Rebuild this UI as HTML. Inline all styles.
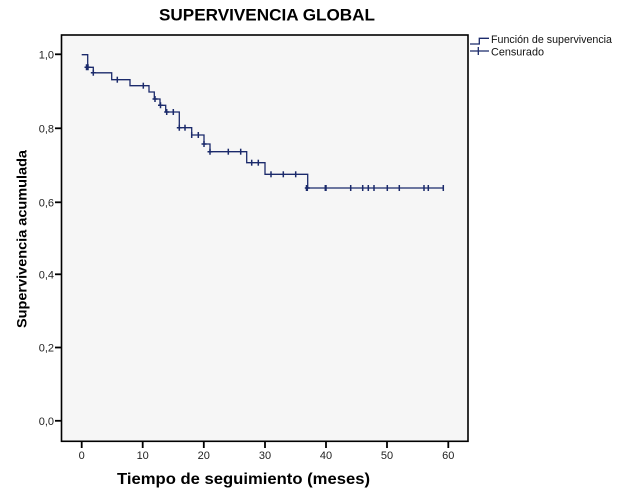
<!DOCTYPE html>
<html>
<head>
<meta charset="utf-8">
<style>
html,body{margin:0;padding:0;background:#fff;}
svg{display:block;}
</style>
</head>
<body>
<svg width="620" height="491" viewBox="0 0 620 491" xmlns="http://www.w3.org/2000/svg">
  <rect x="0" y="0" width="620" height="491" fill="#ffffff"/>
  <!-- Title -->
  <text x="159" y="20.7" font-family="Liberation Sans, Arial, sans-serif" font-weight="bold" font-size="17" fill="#000" textLength="216" lengthAdjust="spacingAndGlyphs">SUPERVIVENCIA GLOBAL</text>

  <!-- Plot area -->
  <rect x="61.5" y="35" width="406.5" height="406.3" fill="#f6f6f6" stroke="#000" stroke-width="1.6"/>

  <!-- Y ticks -->
  <g stroke="#000" stroke-width="1.8">
    <line x1="55" y1="54.3" x2="61.5" y2="54.3"/>
    <line x1="55" y1="128.3" x2="61.5" y2="128.3"/>
    <line x1="55" y1="202.3" x2="61.5" y2="202.3"/>
    <line x1="55" y1="274.3" x2="61.5" y2="274.3"/>
    <line x1="55" y1="347.5" x2="61.5" y2="347.5"/>
    <line x1="55" y1="420.8" x2="61.5" y2="420.8"/>
  </g>
  <g font-family="Liberation Sans, Arial, sans-serif" font-size="11" fill="#222" text-anchor="end">
    <text x="54" y="58.3">1,0</text>
    <text x="54" y="132.3">0,8</text>
    <text x="54" y="206.3">0,6</text>
    <text x="54" y="278.3">0,4</text>
    <text x="54" y="351.5">0,2</text>
    <text x="54" y="424.8">0,0</text>
  </g>

  <!-- X ticks -->
  <g stroke="#000" stroke-width="1.8">
    <line x1="81.7" y1="441.3" x2="81.7" y2="448"/>
    <line x1="142.7" y1="441.3" x2="142.7" y2="448"/>
    <line x1="203.8" y1="441.3" x2="203.8" y2="448"/>
    <line x1="265" y1="441.3" x2="265" y2="448"/>
    <line x1="326" y1="441.3" x2="326" y2="448"/>
    <line x1="387" y1="441.3" x2="387" y2="448"/>
    <line x1="448.3" y1="441.3" x2="448.3" y2="448"/>
  </g>
  <g font-family="Liberation Sans, Arial, sans-serif" font-size="11" fill="#222" text-anchor="middle">
    <text x="81.7" y="459">0</text>
    <text x="142.7" y="459">10</text>
    <text x="203.8" y="459">20</text>
    <text x="265" y="459">30</text>
    <text x="326" y="459">40</text>
    <text x="387" y="459">50</text>
    <text x="448.3" y="459">60</text>
  </g>

  <!-- Axis labels -->
  <text x="117" y="484" font-family="Liberation Sans, Arial, sans-serif" font-weight="bold" font-size="16" fill="#000" textLength="253" lengthAdjust="spacingAndGlyphs">Tiempo de seguimiento (meses)</text>
  <text transform="translate(26.5,328) rotate(-90)" x="0" y="0" font-family="Liberation Sans, Arial, sans-serif" font-weight="bold" font-size="14" fill="#000" textLength="178" lengthAdjust="spacingAndGlyphs">Supervivencia acumulada</text>

  <!-- KM curve -->
  <path d="M81.7,54.7 H87.7 V67.3 H93.3 V72.8 H111.7 V79.7 H130 V85.7 H149 V92 H154.3 V99 H160 V105.3 H165.7 V112 H179.3 V127.7 H191.7 V135 H204 V144 H210 V151.7 H246.7 V162.7 H265 V174.3 H307.7 V188 H443.3" fill="none" stroke="#1b2a6b" stroke-width="1.3"/>

  <!-- Censor marks -->
  <g stroke="#1b2a6b" stroke-width="1.5" fill="none">
    <path d="M86.5,64.3 v6 M88,64.3 v6 M84.5,67.3 h6"/>
    <path d="M93.3,69.8 v6 M90.8,72.8 h5"/>
    <path d="M117.3,76.7 v6"/>
    <path d="M143.3,82.7 v6"/>
    <path d="M155,96 v6 M152.5,99 h5"/>
    <path d="M160.5,102.3 v6 M158,105.3 h5"/>
    <path d="M166.7,109 v6 M164.2,112 h5"/>
    <path d="M173.3,109 v6"/>
    <path d="M179.3,124.7 v6 M176.8,127.7 h5"/>
    <path d="M185,124.7 v6"/>
    <path d="M191.7,132 v6"/>
    <path d="M198.3,132 v6"/>
    <path d="M204,141 v6 M201.5,144 h5"/>
    <path d="M210,148.7 v6 M207.5,151.7 h5"/>
    <path d="M228.3,148.7 v6"/>
    <path d="M240.7,148.7 v6"/>
    <path d="M251.7,159.7 v6"/>
    <path d="M258.3,159.7 v6"/>
    <path d="M271,171.3 v6"/>
    <path d="M283.3,171.3 v6"/>
    <path d="M295.7,171.3 v6"/>
    <path d="M307.3,185 v6 M306.5,185 v6 M304.8,188 h5"/>
    <path d="M326,185 v6 M325.3,185 v6"/>
    <path d="M350.7,185 v6"/>
    <path d="M362.7,185 v6"/>
    <path d="M368.3,185 v6"/>
    <path d="M374,185 v6"/>
    <path d="M387.3,185 v6"/>
    <path d="M399.3,185 v6"/>
    <path d="M424,185 v6"/>
    <path d="M428.3,185 v6"/>
    <path d="M443.3,185 v6"/>
  </g>

  <!-- Legend -->
  <path d="M470,44 H479.3 V38.3 H489" fill="none" stroke="#1b2a6b" stroke-width="1.3"/>
  <path d="M470,51 H489 M478.3,47 V55" fill="none" stroke="#1b2a6b" stroke-width="1.3"/>
  <g font-family="Liberation Sans, Arial, sans-serif" font-size="11" fill="#111">
    <text x="491" y="43" textLength="121" lengthAdjust="spacingAndGlyphs">Función de supervivencia</text>
    <text x="491" y="55.5" textLength="53" lengthAdjust="spacingAndGlyphs">Censurado</text>
  </g>
</svg>
</body>
</html>
